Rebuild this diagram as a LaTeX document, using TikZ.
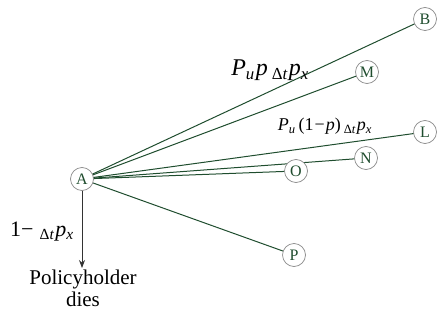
\documentclass[tikz,border=0pt]{standalone}
\usepackage{fontspec}
\setmainfont{Liberation Serif}
\usetikzlibrary{arrows.meta}
\definecolor{edgegreen}{HTML}{1F4D2E}
\definecolor{ringgray}{HTML}{8A8A8A}
\begin{document}
\begin{tikzpicture}[x=1pt,y=-1pt,
  state/.style={circle,draw=ringgray,line width=0.7pt,fill=white,text=edgegreen,
    minimum size=23pt,inner sep=0pt,font=\fontsize{16}{16}\selectfont},
  branch/.style={draw=edgegreen,line width=1pt},
  lbl/.style={inner sep=0pt}]
\useasboundingbox (0,0) rectangle (443,323);
\coordinate (dend) at (82,268);
\draw[branch] (82,179) -- (425,19);
\draw[branch] (82,179) -- (367,72);
\draw[branch] (82,179) -- (425,132);
\draw[branch] (82,179) -- (366,158);
\draw[branch] (82,179) -- (296,171);
\draw[branch] (82,179) -- (294,255);
\node[state] (A) at (82,179) {A};
\node[state] (B) at (425,19) {B};
\node[state] (M) at (367,72) {M};
\node[state] (L) at (425,132) {L};
\node[state] (N) at (366,158) {N};
\node[state] (O) at (296,171) {O};
\node[state] (P) at (294,255) {P};
\draw[black!80,line width=0.8pt,-{Stealth[length=8pt,width=6pt]}] (A) -- (dend);
\node[lbl,anchor=base,font=\fontsize{24}{24}\selectfont] (l1) at (270,76) {\itshape P\textsubscript{u}\kern1pt p\,\textsubscript{\upshape Δ\itshape t}\kern1pt p\textsubscript{x}};
\node[lbl,anchor=base,font=\fontsize{18}{18}\selectfont] (l2) at (325,131) {\itshape P\textsubscript{u}\,\upshape(1\kern1pt−\kern1pt\itshape p\upshape)\,\textsubscript{\upshape Δ\itshape t}\kern1pt\itshape p\textsubscript{x}};
\node[lbl,anchor=base,font=\fontsize{22}{22}\selectfont] (l3) at (42,236) {1−\;\textsubscript{Δ\itshape t}\kern1pt\itshape p\textsubscript{x}};
\node[lbl,align=center,anchor=north,font=\fontsize{21}{22}\selectfont] (dies) at (83,270) {Policyholder\\dies};
\end{tikzpicture}
\end{document}
